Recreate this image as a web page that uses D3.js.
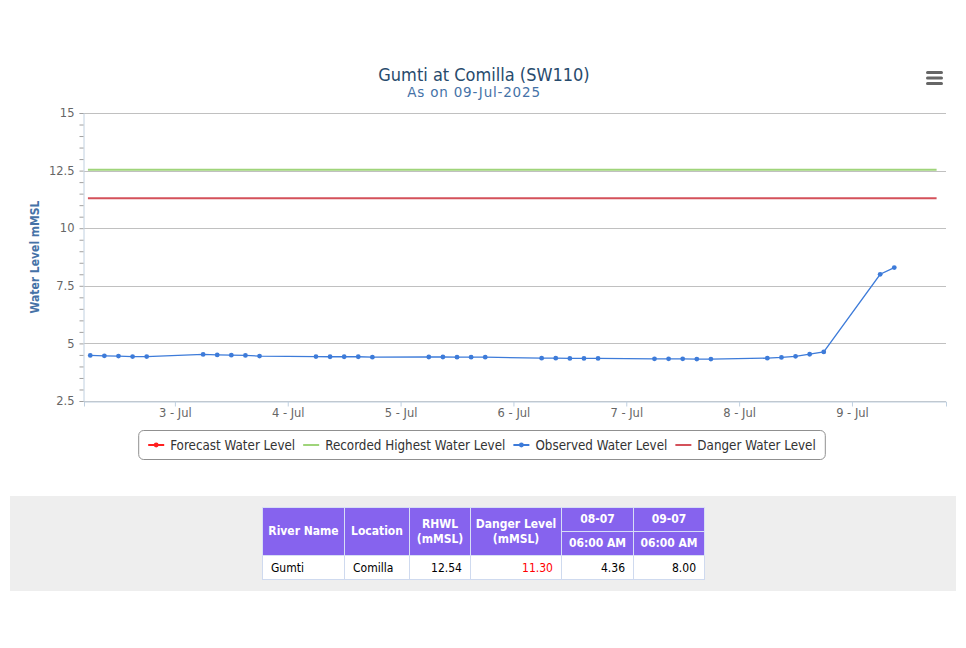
<!DOCTYPE html>
<html>
<head>
<meta charset="utf-8">
<script src="https://cdn.jsdelivr.net/npm/d3@7"></script>
<style>
body { margin:0; background:#fff; font-family: Tahoma, "DejaVu Sans Condensed", "DejaVu Sans", sans-serif; }
#wrap { position:relative; width:966px; height:648px; overflow:hidden; }
#chart { position:absolute; left:0; top:0; }
#panel { position:absolute; left:10px; top:496px; width:946px; height:95px; background:#eeeeee; }
#panel table { position:absolute; left:252px; top:11px; border-collapse:collapse; font-size:12px; table-layout:fixed; }
#panel th { background:#8663ee; color:#fff; font-weight:bold; border:1px solid #d7def5; padding:0 4px; text-align:center; line-height:15px; }
#panel td { background:#fff; color:#000; border:1px solid #cfdaef; padding:0 8px; height:23px; }
</style>
</head>
<body>
<div id="wrap">
  <svg id="chart" width="966" height="648"></svg>
  <div id="panel"></div>
</div>
<script>
// observed water level, every 3 hours (UTC used as local)
const obsTimes = [
  "2025-07-02T06:00","2025-07-02T09:00","2025-07-02T12:00","2025-07-02T15:00","2025-07-02T18:00",
  "2025-07-03T06:00","2025-07-03T09:00","2025-07-03T12:00","2025-07-03T15:00","2025-07-03T18:00",
  "2025-07-04T06:00","2025-07-04T09:00","2025-07-04T12:00","2025-07-04T15:00","2025-07-04T18:00",
  "2025-07-05T06:00","2025-07-05T09:00","2025-07-05T12:00","2025-07-05T15:00","2025-07-05T18:00",
  "2025-07-06T06:00","2025-07-06T09:00","2025-07-06T12:00","2025-07-06T15:00","2025-07-06T18:00",
  "2025-07-07T06:00","2025-07-07T09:00","2025-07-07T12:00","2025-07-07T15:00","2025-07-07T18:00",
  "2025-07-08T06:00","2025-07-08T09:00","2025-07-08T12:00","2025-07-08T15:00","2025-07-08T18:00",
  "2025-07-09T06:00","2025-07-09T09:00"
];
const obsValues = [
  4.48, 4.46, 4.45, 4.43, 4.43,
  4.52, 4.50, 4.49, 4.48, 4.45,
  4.43, 4.42, 4.42, 4.42, 4.40,
  4.41, 4.41, 4.40, 4.40, 4.40,
  4.36, 4.36, 4.35, 4.35, 4.35,
  4.33, 4.33, 4.33, 4.32, 4.32,
  4.36, 4.39, 4.44, 4.53, 4.63,
  8.00, 8.29
];
const refTimes = ["2025-07-02T05:30", "2025-07-09T18:00"];
const rhwlValues = [12.54, 12.54];
const dangerValues = [11.30, 11.30];
const forecastValues = [];

const xDomain = ["2025-07-02T04:40", "2025-07-09T20:00"];
const yTicks = [2.5, 5, 7.5, 10, 12.5, 15];

const legendNames = ["Forecast Water Level", "Recorded Highest Water Level", "Observed Water Level", "Danger Water Level"];
const legendColors = ["#ff2020", "#9fd47a", "#3d7bd9", "#d4515a"];
const legendMarkers = [true, false, true, false];

const tableHead1 = ["River Name", "Location", "RHWL<br>(mMSL)", "Danger Level<br>(mMSL)", "08-07", "09-07"];
const tableHead2 = ["06:00 AM", "06:00 AM"];
const tableRow = ["Gumti", "Comilla", "12.54", "11.30", "4.36", "8.00"];
const colWidths = [82, 65, 61, 91, 72, 71];

const parse = s => new Date(s + ":00Z");
const wideFont = "Verdana, 'DejaVu Sans', sans-serif";

const svg = d3.select("#chart");
const plotLeft = 84, plotRight = 946, plotTop = 113, plotBottom = 401;

const x = d3.scaleUtc().domain(xDomain.map(parse)).range([plotLeft, plotRight]);
const y = d3.scaleLinear().domain([2.5, 15]).range([plotBottom, plotTop]);

// titles
svg.append("text").attr("x", 484).attr("y", 81).attr("text-anchor", "middle")
  .attr("fill", "#274b6d").style("font-size", "18px").text("Gumti at Comilla (SW110)");
svg.append("text").attr("x", 474).attr("y", 97).attr("text-anchor", "middle")
  .attr("fill", "#4572a7").style("font-size", "13.5px").style("letter-spacing", "0.8px")
  .style("font-family", wideFont).text("As on 09-Jul-2025");

// menu icon
svg.append("g").selectAll("rect").data([0, 1, 2]).join("rect")
  .attr("x", 926).attr("y", d => 71 + d * 5.5).attr("width", 17).attr("height", 3)
  .attr("rx", 1.5).attr("fill", "#666");

// grid
svg.append("g").selectAll("line").data(yTicks).join("line")
  .attr("x1", plotLeft).attr("x2", plotRight)
  .attr("y1", d => Math.round(y(d)) + 0.5).attr("y2", d => Math.round(y(d)) + 0.5)
  .attr("stroke", "#c0c0c0");

// y axis
const yAxis = svg.append("g").attr("transform", `translate(${plotLeft - 0.5},0)`)
  .call(d3.axisLeft(y).tickValues(d3.range(2.5, 15.01, 0.5)).tickSize(4).tickFormat(d => yTicks.includes(d) ? d : ""));
yAxis.select(".domain").attr("stroke", "#c0d0e0");
yAxis.selectAll(".tick line").attr("stroke", "#a0a0a0");
yAxis.selectAll(".tick text").attr("fill", "#666").attr("x", -9).style("font-size", "11.5px")
  .style("font-family", wideFont);

svg.append("text").attr("transform", "translate(39,257) rotate(-90)").attr("text-anchor", "middle")
  .attr("fill", "#4572a7").style("font-size", "12px").style("font-weight", "bold").text("Water Level mMSL");

// x axis
const xAxis = svg.append("g").attr("transform", `translate(0,${plotBottom + 0.5})`)
  .call(d3.axisBottom(x).ticks(d3.utcDay.every(1)).tickSize(5).tickFormat(d3.utcFormat("%-d - %b")));
xAxis.select(".domain").attr("stroke", "#c0d0e0");
xAxis.selectAll(".tick line").attr("stroke", "#c0d0e0");
xAxis.selectAll(".tick text").attr("fill", "#666").attr("y", 7).attr("dy", "0.71em").style("font-size", "11.5px")
  .style("font-family", wideFont);

// series
const line = d3.line().x(d => x(d[0])).y(d => y(d[1]));
const refTs = refTimes.map(parse);
svg.append("path").datum(refTs.map((t, i) => [t, rhwlValues[i]]))
  .attr("d", line).attr("fill", "none").attr("stroke", legendColors[1]).attr("stroke-width", 2);
svg.append("path").datum(refTs.map((t, i) => [t, dangerValues[i]]))
  .attr("d", line).attr("fill", "none").attr("stroke", legendColors[3]).attr("stroke-width", 2);

const obs = obsTimes.map((t, i) => [parse(t), obsValues[i]]);
svg.append("path").datum(obs).attr("d", line).attr("fill", "none")
  .attr("stroke", legendColors[2]).attr("stroke-width", 1.3);
svg.append("g").selectAll("circle").data(obs).join("circle")
  .attr("cx", d => x(d[0])).attr("cy", d => y(d[1])).attr("r", 2.4).attr("fill", legendColors[2]);

// legend
const lg = svg.append("g");
const box = lg.append("rect").attr("rx", 5).attr("fill", "#fff").attr("stroke", "#909090");
let cx = 0;
legendNames.forEach((name, i) => {
  const g = lg.append("g").attr("transform", `translate(${cx},0)`);
  g.append("line").attr("x1", 0).attr("x2", 16).attr("y1", 0).attr("y2", 0)
    .attr("stroke", legendColors[i]).attr("stroke-width", 2);
  if (legendMarkers[i]) g.append("circle").attr("cx", 8).attr("r", 2.4).attr("fill", legendColors[i]);
  const t = g.append("text").attr("x", 22).attr("y", 5).attr("fill", "#333")
    .style("font-size", "13.3px").text(name);
  cx += 22 + t.node().getComputedTextLength() + 8;
});
const lw = cx - 8;
lg.attr("transform", `translate(${482 - lw / 2},445)`);
box.attr("x", -9.5).attr("y", -14.5).attr("width", lw + 19).attr("height", 29);

// table
const table = d3.select("#panel").append("table");
table.append("colgroup").selectAll("col").data(colWidths).join("col").style("width", d => d + "px");
const tr1 = table.append("tr").style("height", "24px");
tableHead1.forEach((h, i) => {
  const th = tr1.append("th").html(h);
  if (i < 4) th.attr("rowspan", 2);
});
const tr2 = table.append("tr").style("height", "24px");
tableHead2.forEach(h => tr2.append("th").text(h));
const tr3 = table.append("tr");
tableRow.forEach((v, i) => {
  tr3.append("td").text(v)
    .style("text-align", i < 2 ? "left" : "right")
    .style("color", i === 3 ? "#ff0000" : "#000");
});
</script>
</body>
</html>
